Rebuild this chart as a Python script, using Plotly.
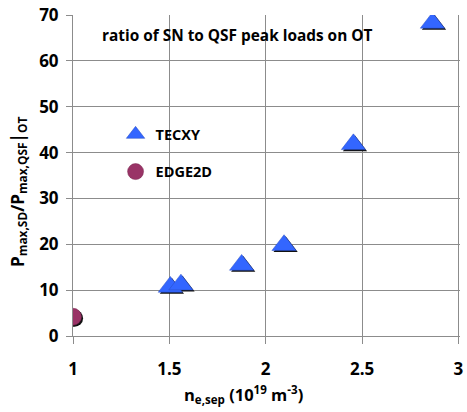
import plotly.graph_objects as go

# TECXY scan: separatrix density (1e19 m^-3) vs. SN/QSF peak-load ratio
tecxy_ne = [1.505, 1.56, 1.875, 2.095, 2.455, 2.865]
tecxy_ratio = [10.7, 11.2, 15.5, 19.8, 41.8, 68.3]

# EDGE2D reference case
edge2d_ne = [1.0]
edge2d_ratio = [4.2]

x_ticks = [1, 1.5, 2, 2.5, 3]
y_ticks = [0, 10, 20, 30, 40, 50, 60, 70]

FONT = "Open Sans"
GRID = "#8c8c8c"
BLUE = "#3366ff"
MAROON = "#993366"

X_RANGE = [1, 3.008]
Y_RANGE = [0, 70.02]
W, H = 467, 412
M = dict(l=73, r=3, t=13, b=76)
plot_w = W - M["l"] - M["r"]
plot_h = H - M["t"] - M["b"]
# drop-shadow offset in pixels (right, down)
SH = 1.6
dx = SH * (X_RANGE[1] - X_RANGE[0]) / plot_w
dy = SH * (Y_RANGE[1] - Y_RANGE[0]) / plot_h

fig = go.Figure()

# dark drop shadows on the base axes (shifted range)
fig.add_trace(go.Scatter(
    x=tecxy_ne, y=tecxy_ratio, mode="markers", xaxis="x", yaxis="y",
    marker=dict(symbol="triangle-up", size=21, color="#111111"),
    showlegend=False, hoverinfo="skip"))
fig.add_trace(go.Scatter(
    x=edge2d_ne, y=edge2d_ratio, mode="markers", xaxis="x", yaxis="y",
    marker=dict(symbol="circle", size=17, color="#111111"),
    showlegend=False, hoverinfo="skip"))

# coloured markers on the overlay axes (true range, ticks and grid)
fig.add_trace(go.Scatter(
    x=tecxy_ne, y=tecxy_ratio, mode="markers", name="<b>TECXY</b>",
    xaxis="x2", yaxis="y2", legend="legend",
    marker=dict(symbol="triangle-up", size=21, color=BLUE,
                line=dict(color="#2a4fc0", width=0.5))))
fig.add_trace(go.Scatter(
    x=edge2d_ne, y=edge2d_ratio, mode="markers", name="<b>EDGE2D</b>",
    xaxis="x2", yaxis="y2", legend="legend2",
    marker=dict(symbol="circle", size=17, color=MAROON,
                line=dict(color="#7a2850", width=0.5))))

tick_font = dict(family=FONT, size=17, color="#000000", weight=700)

fig.update_layout(
    width=W, height=H, margin=M,
    paper_bgcolor="white", plot_bgcolor="white",
    font=dict(family=FONT, color="#000000"),
    xaxis=dict(range=[X_RANGE[0] - dx, X_RANGE[1] - dx], visible=False,
               fixedrange=True),
    yaxis=dict(range=[Y_RANGE[0] + dy, Y_RANGE[1] + dy], visible=False,
               fixedrange=True),
    xaxis2=dict(range=X_RANGE, overlaying="x", anchor="y2",
                tickvals=x_ticks,
                ticktext=[f"<b>{v:g}</b>" for v in x_ticks],
                showgrid=True, gridcolor=GRID, gridwidth=1,
                showline=True, linecolor=GRID, linewidth=1,
                ticks="outside", ticklen=7, tickcolor=GRID, tickwidth=1,
                zeroline=False, tickfont=tick_font, ticklabelstandoff=11,
                ticklabeloverflow="allow"),
    yaxis2=dict(range=Y_RANGE, overlaying="y", anchor="x2",
                tickvals=y_ticks,
                ticktext=[f"<b>{v}</b>" for v in y_ticks],
                showgrid=True, gridcolor=GRID, gridwidth=1,
                showline=True, linecolor=GRID, linewidth=1,
                ticks="outside", ticklen=6, tickcolor=GRID, tickwidth=1,
                zeroline=False, tickfont=tick_font, ticklabelstandoff=4),
    legend=dict(x=0.11, y=0.628, xanchor="left", yanchor="middle",
                bgcolor="rgba(0,0,0,0)", borderwidth=0,
                font=dict(family=FONT, size=14.5, weight=700)),
    legend2=dict(x=0.11, y=0.512, xanchor="left", yanchor="middle",
                 bgcolor="rgba(0,0,0,0)", borderwidth=0,
                 font=dict(family=FONT, size=14.5, weight=700)),
    shapes=[
        # white panels behind the caption and the key
        dict(type="rect", xref="paper", yref="paper", layer="between",
             x0=0.003, x1=0.826, y0=0.861, y1=0.988,
             fillcolor="white", line=dict(width=0)),
        dict(type="rect", xref="paper", yref="paper", layer="between",
             x0=0.12, x1=0.415, y0=0.44, y1=0.693,
             fillcolor="white", line=dict(width=0)),
    ],
    annotations=[
        dict(text="<b>ratio of SN to QSF peak loads on OT</b>", xref="paper",
             yref="paper", x=0.424, y=0.935, showarrow=False,
             xanchor="center", yanchor="middle",
             font=dict(family=FONT, size=15.4, weight=700)),
        dict(text="<b>n<sub>e,sep</sub> (10<sup>19</sup> m<sup>-3</sup>)</b>",
             xref="paper", yref="paper", x=0.441, y=-0.183,
             showarrow=False, xanchor="center", yanchor="middle",
             font=dict(family=FONT, size=16.5, weight=700)),
        dict(text="<b>P<sub>max,SD</sub>/P<sub>max,QSF</sub>|<sub>OT</sub></b>",
             xref="paper", yref="paper", x=-0.141, y=0.45,
             showarrow=False, xanchor="center", yanchor="middle",
             textangle=-90,
             font=dict(family=FONT, size=17, weight=700)),
    ],
)

fig.write_html("out.html")
